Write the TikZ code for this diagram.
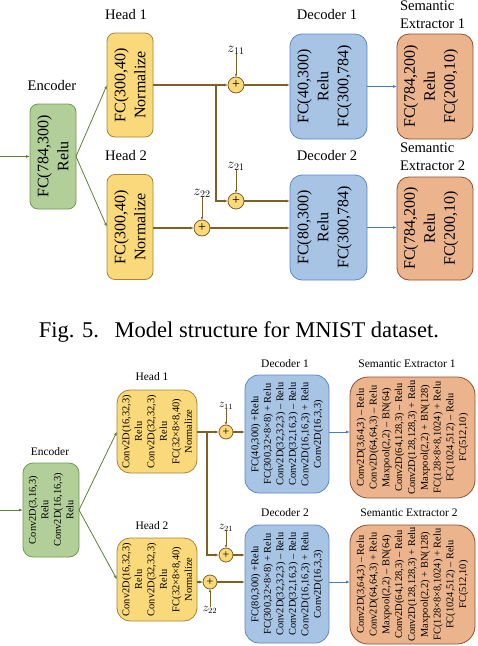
\documentclass[tikz,border=0pt]{standalone}
\usepackage{fontspec}
\setmainfont{Liberation Serif}
\usetikzlibrary{arrows.meta}
\definecolor{encfill}{HTML}{B3CF99}
\definecolor{encline}{HTML}{6E9B4E}
\definecolor{greenln}{HTML}{5F8038}
\definecolor{headfill}{HTML}{FAD97A}
\definecolor{headline}{HTML}{A8843A}
\definecolor{brownln}{HTML}{7F6223}
\definecolor{decfill}{HTML}{A7C4E5}
\definecolor{decline}{HTML}{5A8AC6}
\definecolor{blueln}{HTML}{4A7EBF}
\definecolor{sefill}{HTML}{ECB48C}
\definecolor{seline}{HTML}{8E5030}
\begin{document}
\begin{tikzpicture}[x=1pt,y=1pt,
  every node/.style={inner sep=0pt, outer sep=0pt},
  encbox/.style={draw=encline, fill=encfill, line width=0.8pt, rounded corners=#1},
  encbox/.default=8pt,
  headbox/.style={draw=headline, fill=headfill, line width=0.8pt, rounded corners=#1},
  headbox/.default=8pt,
  decbox/.style={draw=decline, fill=decfill, line width=0.8pt, rounded corners=#1},
  decbox/.default=12pt,
  sebox/.style={draw=seline, fill=sefill, line width=0.8pt, rounded corners=#1},
  sebox/.default=12pt,
  circ/.style={circle, draw=brownln, fill=headfill, line width=0.8pt, minimum size=#1},
  circ/.default=16pt,
  bigtxt/.style={rotate=90, align=center, font=\fontsize{16}{20}\selectfont},
  smalltxt/.style={rotate=90, align=center, font=\fontsize{10.4}{12.5}\selectfont},
  setxt/.style={rotate=90, align=center, font=\fontsize{10.4}{12.8}\selectfont},
  toplab/.style={font=\fontsize{14.6}{18}\selectfont},
  botlab/.style={font=\fontsize{11.5}{14}\selectfont},
  garrow/.style={draw=greenln, line width=0.8pt, -{Latex[length=4pt,width=3pt]}},
  barrow/.style={draw=brownln, line width=1.1pt, -{Latex[length=4pt,width=3pt]}},
  bline/.style={draw=brownln, line width=1.1pt},
  blarrow/.style={draw=blueln, line width=0.8pt, -{Latex[length=4pt,width=3pt]}},
  zarrow/.style={draw=brownln, line width=0.7pt, -{Latex[length=3pt,width=2.5pt]}},
]
\useasboundingbox (0,0) rectangle (478,-646);

% ================= TOP DIAGRAM =================
\node[encbox, minimum width=46pt, minimum height=105pt] (enc1) at (53,-156.5) {};
\node[bigtxt] (enc1t) at (enc1) {FC(784,300)\\Relu};
\node[toplab] (enc1l) at (52,-86) {Encoder};

\node[headbox, minimum width=46pt, minimum height=104pt] (h1) at (130,-85) {};
\node[bigtxt] (h1t) at (h1) {FC(300,40)\\Normalize};
\node[toplab] (h1l) at (126,-15) {Head 1};

\node[headbox, minimum width=46pt, minimum height=105pt] (h2) at (130,-227) {};
\node[bigtxt] (h2t) at (h2) {FC(300,40)\\Normalize};
\node[toplab] (h2l) at (126,-156) {Head 2};

\node[decbox, minimum width=77pt, minimum height=105pt] (d1) at (328.5,-86.5) {};
\node[bigtxt] (d1t) at ([xshift=-4pt]d1.center) {FC(40,300)\\Relu\\FC(300,784)};
\node[toplab] (d1l) at (327,-15) {Decoder 1};

\node[decbox, minimum width=77pt, minimum height=105pt] (d2) at (328.5,-227.5) {};
\node[bigtxt] (d2t) at ([xshift=-4pt]d2.center) {FC(80,300)\\Relu\\FC(300,784)};
\node[toplab] (d2l) at (327,-156) {Decoder 2};

\node[sebox, minimum width=76pt, minimum height=105pt] (s1) at (435,-86.5) {};
\node[bigtxt] (s1t) at ([xshift=-4pt]s1.center) {FC(784,200)\\Relu\\FC(200,10)};
\node[toplab, align=left, anchor=north west] (s1l) at (400,-1) {Semantic\\Extractor 1};

\node[sebox, minimum width=76pt, minimum height=103pt] (s2) at (435,-228.5) {};
\node[bigtxt] (s2t) at ([xshift=-4pt]s2.center) {FC(784,200)\\Relu\\FC(200,10)};
\node[toplab, align=left, anchor=north west] (s2l) at (400,-143) {Semantic\\Extractor 2};

\node[circ, font=\fontsize{14}{14}\selectfont] (c11) at (236,-85) {+};
\node[circ, font=\fontsize{14}{14}\selectfont] (c21) at (236,-201) {+};
\node[circ, font=\fontsize{14}{14}\selectfont] (c22) at (202,-228) {+};
\node[font=\fontsize{14}{16}\selectfont] (z11) at (236,-50) {$z_{11}$};
\node[font=\fontsize{14}{16}\selectfont] (z21) at (236,-166) {$z_{21}$};
\node[font=\fontsize{14}{16}\selectfont] (z22) at (202,-193) {$z_{22}$};
\coordinate (in1) at (0,-156.5);
\coordinate (j1) at (216,-85);

\draw[garrow] (in1) -- (enc1.west);
\draw[garrow] (enc1.east) -- (h1.west);
\draw[garrow] (enc1.east) -- (h2.west);
\draw[barrow] (h1.east) -- (c11.west);
\draw[barrow] (j1) |- (c21.west);
\draw[barrow] (h2.east |- c22) -- (c22.west);
\draw[zarrow] (z11.south) -- (c11.north);
\draw[zarrow] (z21.south) -- (c21.north);
\draw[zarrow] (z22.south) -- (c22.north);
\draw[barrow] (c11.east) -- (c11 -| d1.west);
\draw[barrow] (c21.east) -- (c21 -| d2.west);
\draw[barrow] (c22.east) -- (c22 -| d2.west);
\draw[blarrow] (d1.east) -- (d1 -| s1.west);
\draw[blarrow] (d2.east) -- (d2 -| s2.west);

% caption
\node[font=\fontsize{22.5}{27}\selectfont] (cap) at (239,-332) {Fig. 5.\hspace{0.7em}Model structure for MNIST dataset.};

% ================= BOTTOM DIAGRAM =================
\node[encbox=10pt, minimum width=56pt, minimum height=94pt] (enc2) at (51,-510) {};
\node[smalltxt] (enc2t) at (enc2) {Conv2D(3,16,3)\\Relu\\Conv2D(16,16,3)\\Relu};
\node[botlab] (enc2l) at (50,-452) {Encoder};

\node[headbox=13pt, minimum width=80pt, minimum height=83pt] (h3) at (157,-431.5) {};
\node[smalltxt] (h3t) at (h3) {Conv2D(16,32,3)\\Relu\\Conv2D(32,32,3)\\Relu\\FC(32×8×8,40)\\Normalize};
\node[botlab] (h3l) at (152,-377) {Head 1};

\node[headbox=13pt, minimum width=80pt, minimum height=83pt] (h4) at (157,-579.5) {};
\node[smalltxt] (h4t) at (h4) {Conv2D(16,32,3)\\Relu\\Conv2D(32,32,3)\\Relu\\FC(32×8×8,40)\\Normalize};
\node[botlab] (h4l) at (152,-526) {Head 2};

\node[decbox=14pt, minimum width=84pt, minimum height=118pt] (d3) at (287,-434) {};
\node[smalltxt] (d3t) at (d3) {FC(40,300) +Relu\\FC(300,32×8×8) + Relu\\Conv2D(32,32,3) – Relu\\Conv2D(32,16,3) – Relu\\Conv2D(16,16,3) + Relu\\Conv2D(16,3,3)};
\node[botlab] (d3l) at (285,-364) {Decoder 1};

\node[decbox=14pt, minimum width=84pt, minimum height=118pt] (d4) at (287,-584) {};
\node[smalltxt] (d4t) at (d4) {FC(80,300) +Relu\\FC(300,32×8×8) + Relu\\Conv2D(32,32,3) – Relu\\Conv2D(32,16,3) – Relu\\Conv2D(16,16,3) + Relu\\Conv2D(16,3,3)};
\node[botlab] (d4l) at (285,-513) {Decoder 2};

\node[sebox=18pt, minimum width=125pt, minimum height=121pt] (s3) at (412.5,-437.5) {};
\node[setxt] (s3t) at (s3) {Conv2D(3,64,3) – Relu\\Conv2D(64,64,3) – Relu\\Maxpool(2,2) – BN(64)\\Conv2D(64,128,3) – Relu\\Conv2D(128,128,3) + Relu\\Maxpool(2,2) + BN(128)\\FC(128×8×8,1024) + Relu\\FC(1024,512) – Relu\\FC(512,10)};
\node[botlab] (s3l) at (407,-364) {Semantic Extractor 1};

\node[sebox=18pt, minimum width=125pt, minimum height=119pt] (s4) at (412.5,-584.5) {};
\node[setxt] (s4t) at (s4) {Conv2D(3,64,3) – Relu\\Conv2D(64,64,3) + Relu\\Maxpool(2,2) – BN(64)\\Conv2D(64,128,3) – Relu\\Conv2D(128,128,3) + Relu\\Maxpool(2,2) + BN(128)\\FC(128×8×8,1024) + Relu\\FC(1024,512) – Relu\\FC(512,10)};
\node[botlab] (s4l) at (409,-513) {Semantic Extractor 2};

\node[circ=14pt, font=\fontsize{12}{12}\selectfont] (c31) at (226,-432) {+};
\node[circ=14pt, font=\fontsize{12}{12}\selectfont] (c41) at (226,-555) {+};
\node[circ=14pt, font=\fontsize{12}{12}\selectfont] (c42) at (210,-582) {+};
\node[font=\fontsize{11.5}{13}\selectfont] (z31) at (226,-406) {$z_{11}$};
\node[font=\fontsize{11.5}{13}\selectfont] (z41) at (226,-528) {$z_{21}$};
\node[font=\fontsize{11.5}{13}\selectfont] (z42) at (210,-610) {$z_{22}$};
\coordinate (in2) at (0,-510);
\coordinate (j2) at (207,-432);

\draw[garrow] (in2) -- (enc2.west);
\draw[garrow] (enc2.east) -- (h3.west);
\draw[garrow] (enc2.east) -- (h4.west);
\draw[barrow] (h3.east |- c31) -- (c31.west);
\draw[barrow] (j2) |- (c41.west);
\draw[barrow] (h4.east |- c42) -- (c42.west);
\draw[zarrow] (z31.south) -- (c31.north);
\draw[zarrow] (z41.south) -- (c41.north);
\draw[zarrow] (z42.north) -- (c42.south);
\draw[barrow] (c31.east) -- (c31 -| d3.west);
\draw[barrow] (c41.east) -- (c41 -| d4.west);
\draw[barrow] (c42.east) -- (c42 -| d4.west);
\draw[blarrow] (d3.east |- c31) -- (c31 -| s3.west);
\draw[blarrow] (d4.east |- c42) -- (c42 -| s4.west);
\end{tikzpicture}
\end{document}
